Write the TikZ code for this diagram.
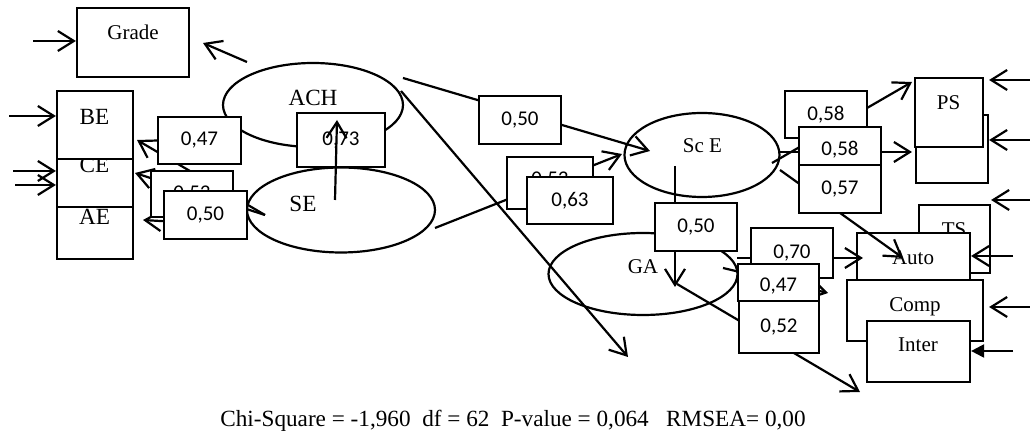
\documentclass[tikz,border=0pt]{standalone}
\usepackage{fontspec}
\setmainfont{Liberation Serif}
\newfontfamily\numfont{Carlito}
\usepackage{tikz}
\usetikzlibrary{arrows.meta,positioning,shapes.geometric}

\begin{document}
\begin{tikzpicture}[x=0.5pt,y=-0.5pt,line width=1.1pt,
  var/.style={draw,fill=white,inner sep=0pt},
  lat/.style={draw,ellipse,inner sep=0pt},
  txt/.style={anchor=base,inner sep=0pt,font=\fontsize{10.5}{12}\selectfont},
  txtl/.style={txt,font=\fontsize{11.6}{13}\selectfont},
  coef/.style={draw,fill=white,inner sep=0pt,font=\numfont\fontsize{10.5}{12}\selectfont},
  arr/.style={-{Straight Barb[length=8pt,width=10pt]}},
  arrf/.style={-{Triangle[length=6.5pt,width=6.5pt]}}]
  \useasboundingbox (0,0) rectangle (1030,442);
  % latent variables
  \node[lat,minimum width=90pt,minimum height=42pt] (ach) at (313,105) {};
  \node[lat,minimum width=94pt,minimum height=42.5pt] (se) at (341,210) {};
  \node[lat,minimum width=77.5pt,minimum height=42pt] (sce) at (702,155) {};
  \node[lat,minimum width=94.5pt,minimum height=41pt] (ga) at (643,274) {};
  % observed variables
  \node[var,minimum width=56pt,minimum height=34.5pt] (grade) at (133,42.5) {};
  \node[txt] (gradeT) at (133,40) {Grade};
  \node[var,minimum width=38pt,minimum height=26pt] (ae) at (95,233) {};
  \node[txtl] (aeT) at (94.5,225) {AE};
  \node[var,minimum width=38pt,minimum height=24pt] (ce) at (95,183) {};
  \node[txtl] (ceT) at (94.5,173) {CE};
  \node[var,minimum width=38pt,minimum height=34pt] (be) at (95,125) {};
  \node[txtl] (beT) at (94.5,125) {BE};
  \node[var,minimum width=36pt,minimum height=34pt] (psb) at (952,149) {};
  \node[var,minimum width=34pt,minimum height=34.5pt] (ps) at (949,112.5) {};
  \node[txt] (psT) at (948.5,110) {PS};
  \node[var,minimum width=35.5pt,minimum height=34pt] (ts) at (954.5,239) {};
  \node[txt] (tsT) at (954,237) {TS};
  \node[var,minimum width=56.5pt,minimum height=23.5pt] (auto) at (913.5,256.5) {};
  \node[txt] (autoT) at (913,265) {Auto};
  \node[var,minimum width=68pt,minimum height=30.5pt] (comp) at (915,310.5) {};
  \node[txt] (compT) at (915,312) {Comp};
  \node[var,minimum width=51.5pt,minimum height=30.5pt] (inter) at (918.5,351.5) {};
  \node[txt] (interT) at (918,352) {Inter};
  \node[txtl] (achT) at (313,106) {ACH};
  \node[txtl] (seT) at (303,212) {SE};
  \node[txt] (sceT) at (702.5,153) {Sc E};
  \node[txt] (gaT) at (643,274) {GA};
  % free ends
  \coordinate (eG) at (33,41);
  \coordinate (eBE) at (9,116);
  \coordinate (eCE1) at (13,171);
  \coordinate (eCE2) at (15,185);
  \coordinate (ePS1) at (1030,80);
  \coordinate (ePS2) at (1030,140);
  \coordinate (eTS) at (1030,200);
  \coordinate (eAuto) at (1013,256);
  \coordinate (eComp) at (1030,307);
  \coordinate (eInter) at (1013,351);
  \coordinate (achG) at (247,62);
  \coordinate (gradeIn) at (203,43);
  \coordinate (seL) at (265,215);
  \coordinate (beIn) at (137,140);
  \coordinate (ceIn) at (135,173);
  \coordinate (seAE) at (247,226);
  \coordinate (aeIn) at (143,220);
  \coordinate (seUp) at (335,200);
  \coordinate (achIn) at (337,120);
  \coordinate (achR) at (403,78);
  \coordinate (achD) at (401,91);
  \coordinate (diagEnd) at (628,357);
  \coordinate (sceIn) at (650,151);
  \coordinate (seR) at (435,228);
  \coordinate (sceL) at (622,154);
  \coordinate (sceDn) at (675,166);
  \coordinate (gaIn) at (675,287);
  \coordinate (gaOut) at (677,284);
  \coordinate (interEnd) at (860,392);
  \coordinate (gaR) at (737,258);
  \coordinate (autoIn) at (863,258);
  \coordinate (gaR2) at (723,268);
  \coordinate (compIn) at (828,293);
  \coordinate (sceR1) at (772,163);
  \coordinate (psIn) at (912,82);
  \coordinate (sceR2) at (780,152);
  \coordinate (psbIn) at (912,152);
  \coordinate (sceR3) at (780,170);
  \coordinate (autoTxt) at (903,258);
  % error arrows
  \draw[arr] (eG) -- (eG -| grade.west);
  \draw[arr] (eBE) -- (eBE -| be.west);
  \draw[arr] (eCE1) -- (eCE1 -| ce.west);
  \draw[arr] (eCE2) -- (eCE2 -| ce.west);
  \draw[arr] (ePS1) -- (ePS1 -| psb.east);
  \draw[arr] (ePS2) -- (ePS2 -| psb.east);
  \draw[arr] (eTS) -- (eTS -| ts.east);
  \draw[arr] (eAuto) -- (eAuto -| auto.east);
  \draw[arr] (eComp) -- (eComp -| psb.east);
  \draw[arrf] (eInter) -- (eInter -| inter.east);
  % paths
  \draw[arr] (achG) -- (gradeIn);
  \draw[arr] (seL) -- (beIn);
  \draw[arr] (seL) -- (ceIn);
  \draw[arr] (seAE) -- (aeIn);
  \draw[arr] (achR) -- (sceIn);
  \draw[arr] (achD) -- (diagEnd);
  \draw[arr] (seR) -- (sceL);
  \draw[arr] (sceDn) -- (gaIn);
  \draw[arr] (gaOut) -- (interEnd);
  \draw[arr] (gaR) -- (autoIn);
  \draw[arr] (gaR2) -- (compIn);
  \draw[arr] (sceR1) -- (psIn);
  \draw[arr] (sceR2) -- (psbIn);
  \draw[arr] (sceR3) -- (autoTxt);
  % coefficients
  \node[coef,minimum width=41.5pt,minimum height=23.5pt] (c47a) at (199.5,140.5) {0,47};
  \node[coef,minimum width=41pt,minimum height=23pt] (c53a) at (192,194) {0,53};
  \node[coef,minimum width=41.5pt,minimum height=24pt] (c50a) at (205.5,215) {0,50};
  \node[coef,minimum width=44pt,minimum height=27pt] (c73) at (341,140) {0,73};
  \node[coef,minimum width=41pt,minimum height=24pt] (c50b) at (520,120) {0,50};
  \node[coef,minimum width=43pt,minimum height=26pt,text depth=4.5pt] (c53b) at (550,183) {0,53};
  \node[coef,minimum width=43pt,minimum height=23.5pt] (c63) at (570,200.5) {0,63};
  \node[coef,minimum width=41pt,minimum height=24pt] (c50c) at (696,227) {0,50};
  \node[coef,minimum width=41pt,minimum height=23.5pt] (c58a) at (826,114.5) {0,58};
  \node[coef,minimum width=41pt,minimum height=19pt,text height=11pt,text depth=1.5pt] (c58b) at (840,146) {0,58};
  \node[coef,minimum width=41pt,minimum height=24pt] (c57) at (840,189) {0,57};
  \node[coef,minimum width=41pt,minimum height=25pt] (c70) at (792,253) {0,70};
  \node[coef,minimum width=40.5pt,minimum height=18.5pt,text height=11pt,text depth=1.5pt] (c47b) at (778.5,282.5) {0,47};
  \node[coef,minimum width=40pt,minimum height=26pt] (c52) at (779,327) {0,52};
  \draw[arr] (seUp) -- (achIn);
  \node[txtl] (gof) at (513,427) {Chi-Square = -1,960\ \ df = 62\ \ P-value = 0,064\ \ \ RMSEA= 0,00};
\end{tikzpicture}
\end{document}
